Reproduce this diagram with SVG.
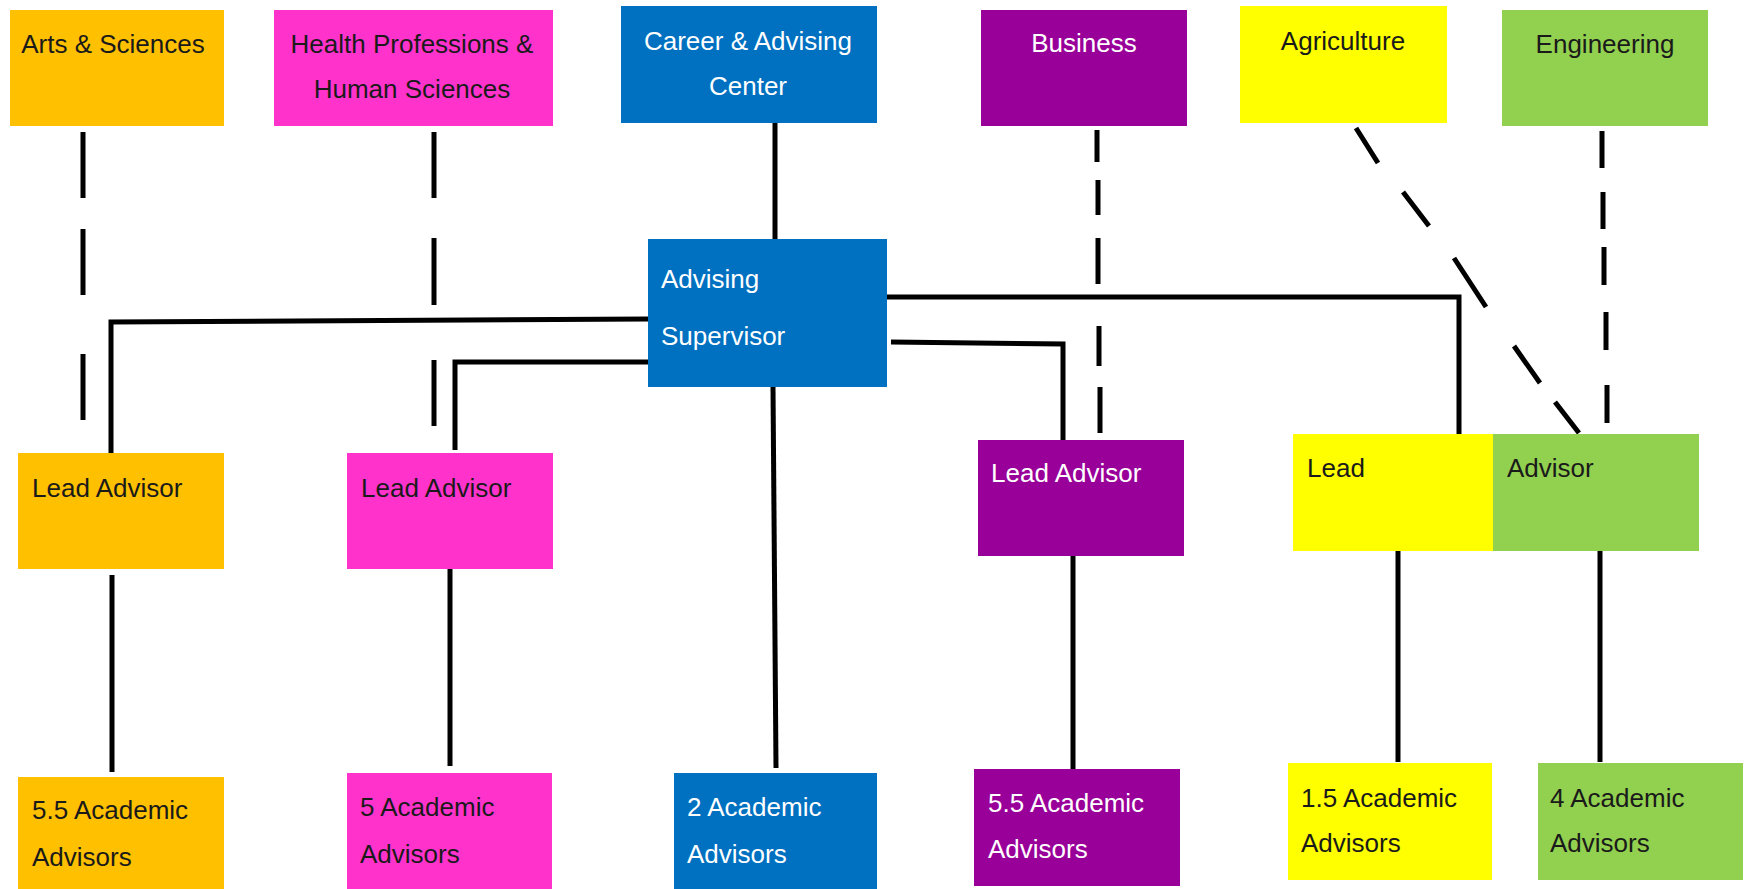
<svg xmlns="http://www.w3.org/2000/svg" width="1750" height="889" viewBox="0 0 1750 889">
<style>
text{font-family:"Liberation Sans",Arial,sans-serif;font-size:26px;fill:#1a1a1a}
.w{fill:#ffffff}
.c{text-anchor:middle}
.orange{fill:#FFC000}.pink{fill:#FF33CC}.blue{fill:#0070C0}.purple{fill:#990099}.yellow{fill:#FFFF00}.green{fill:#92D050}
.solid{fill:none;stroke:#000;stroke-width:5}
.dash{fill:none;stroke:#000;stroke-width:5}
</style>
<rect width="1750" height="889" fill="#ffffff"/>
<g id="connectors">
<path class="solid" d="M775 123V239"/>
<path class="solid" d="M648 319L111 322V453"/>
<path class="solid" d="M648 362H455V450"/>
<path class="solid" d="M887 297H1459V434"/>
<path class="solid" d="M891 342L1063 344V440"/>
<path class="solid" d="M773 387L776 768"/>
<path class="solid" d="M112 575V772"/>
<path class="solid" d="M450 569V766"/>
<path class="solid" d="M1073 556V769"/>
<path class="solid" d="M1398 551V762"/>
<path class="solid" d="M1600 551V762"/>
<path class="dash" d="M83 132V198M83 229V295M83 354V420"/>
<path class="dash" d="M434 132V198M434 238V305M434 360V426"/>
<path class="dash" d="M1097 130V162M1098 180V215M1098 238V284M1099 326V366M1100 387V433"/>
<path class="dash" d="M1356 128L1378 163M1403 192L1429 226M1454 258L1486 307M1514 346L1540 383M1555 402L1579 433"/>
<path class="dash" d="M1602 131V168M1603 192V229M1604 247V285M1606 312V350M1607 385V423"/>
</g>
<g id="arts-sciences"><rect class="orange" x="10" y="10" width="214" height="116"/><text class="c" x="113" y="53">Arts &amp; Sciences</text></g>
<g id="health-professions"><rect class="pink" x="274" y="10" width="279" height="116"/><text class="c" x="412" y="53">Health Professions &amp;</text><text class="c" x="412" y="98">Human Sciences</text></g>
<g id="career-advising-center"><rect class="blue" x="621" y="6" width="256" height="117"/><text class="c w" x="748" y="50">Career &amp; Advising</text><text class="c w" x="748" y="95">Center</text></g>
<g id="business"><rect class="purple" x="981" y="10" width="206" height="116"/><text class="c w" x="1084" y="52">Business</text></g>
<g id="agriculture"><rect class="yellow" x="1240" y="6" width="207" height="117"/><text class="c" x="1343" y="50">Agriculture</text></g>
<g id="engineering"><rect class="green" x="1502" y="10" width="206" height="116"/><text class="c" x="1605" y="53">Engineering</text></g>
<g id="advising-supervisor"><rect class="blue" x="648" y="239" width="239" height="148"/><text class="w" x="661" y="288">Advising</text><text class="w" x="661" y="345">Supervisor</text></g>
<g id="lead-arts"><rect class="orange" x="18" y="453" width="206" height="116"/><text x="32" y="497">Lead Advisor</text></g>
<g id="lead-health"><rect class="pink" x="347" y="453" width="206" height="116"/><text x="361" y="497">Lead Advisor</text></g>
<g id="lead-business"><rect class="purple" x="978" y="440" width="206" height="116"/><text class="w" x="991" y="482">Lead Advisor</text></g>
<g id="lead-ag-eng"><rect class="yellow" x="1293" y="434" width="200" height="117"/><rect class="green" x="1493" y="434" width="206" height="117"/><text x="1307" y="477">Lead</text><text x="1507" y="477">Advisor</text></g>
<g id="advisors-arts"><rect class="orange" x="18" y="777" width="206" height="112"/><text x="32" y="819">5.5 Academic</text><text x="32" y="866">Advisors</text></g>
<g id="advisors-health"><rect class="pink" x="347" y="773" width="205" height="116"/><text x="360" y="816">5 Academic</text><text x="360" y="863">Advisors</text></g>
<g id="advisors-center"><rect class="blue" x="674" y="773" width="203" height="116"/><text class="w" x="687" y="816">2 Academic</text><text class="w" x="687" y="863">Advisors</text></g>
<g id="advisors-business"><rect class="purple" x="974" y="769" width="206" height="117"/><text class="w" x="988" y="812">5.5 Academic</text><text class="w" x="988" y="858">Advisors</text></g>
<g id="advisors-agriculture"><rect class="yellow" x="1288" y="763" width="204" height="117"/><text x="1301" y="807">1.5 Academic</text><text x="1301" y="852">Advisors</text></g>
<g id="advisors-engineering"><rect class="green" x="1538" y="763" width="205" height="117"/><text x="1550" y="807">4 Academic</text><text x="1550" y="852">Advisors</text></g>
</svg>
